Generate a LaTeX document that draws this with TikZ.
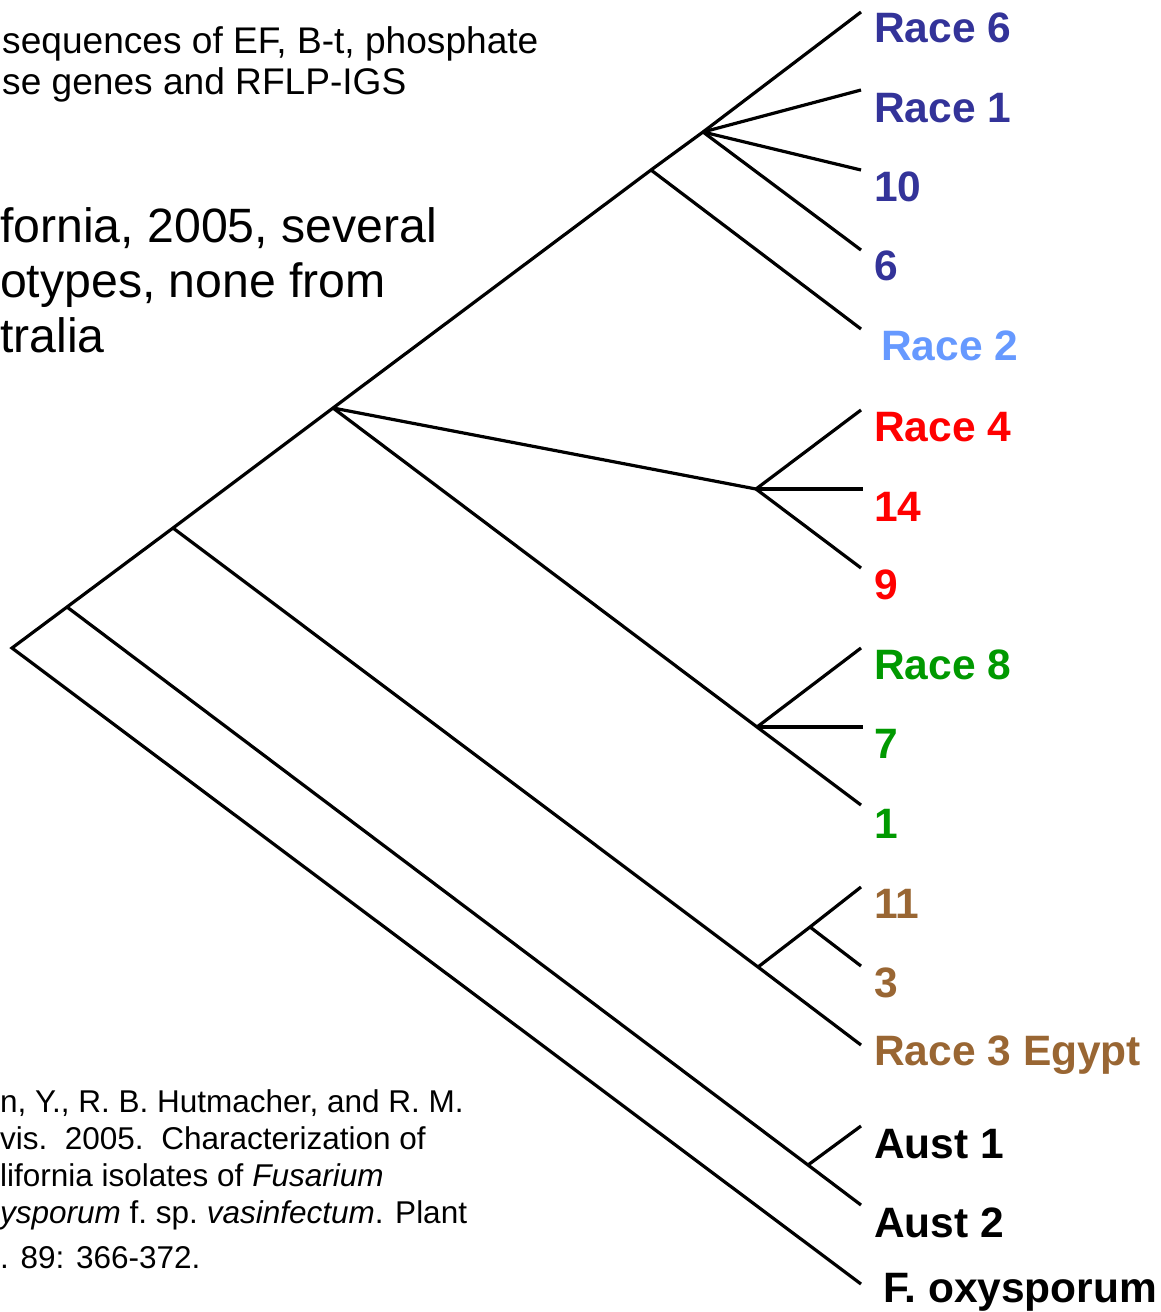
\documentclass[tikz,border=0pt]{standalone}
\usepackage{fontspec}
\setmainfont{Liberation Sans}
\definecolor{rblue}{HTML}{333399}
\definecolor{rlight}{HTML}{6699FF}
\definecolor{rred}{HTML}{FF0000}
\definecolor{rgreen}{HTML}{009900}
\definecolor{rbrown}{HTML}{996633}
\begin{document}
\begin{tikzpicture}[x=1pt,y=-1pt,
  br/.style={draw=black, line width=3.2pt},
  lab/.style={anchor=base west, inner sep=0pt, font=\bfseries\fontsize{42.5}{50}\selectfont},
  txt/.style={anchor=base west, inner sep=0pt, text=black},
]
\useasboundingbox (0,0) rectangle (1161,1312);
% internal nodes
\coordinate (root) at (12,648);
\coordinate (nA) at (67,607);
\coordinate (nB) at (173,528);
\coordinate (nC) at (333,408);
\coordinate (nD) at (651,170);
\coordinate (nE) at (703,132);
\coordinate (nF) at (756,489);
\coordinate (nG) at (757,727);
\coordinate (nH) at (758,967);
\coordinate (nI) at (810,927);
\coordinate (nJ) at (808,1165);
% tips
\coordinate (t1) at (861,12);
\coordinate (t2) at (861,90);
\coordinate (t3) at (861,170);
\coordinate (t4) at (861,250);
\coordinate (t5) at (861,329);
\coordinate (t6) at (861,410);
\coordinate (t7) at (863,489);
\coordinate (t8) at (861,568);
\coordinate (t9) at (861,648);
\coordinate (t10) at (863,727);
\coordinate (t11) at (861,805);
\coordinate (t12) at (861,887);
\coordinate (t13) at (861,966);
\coordinate (t14) at (861,1045);
\coordinate (t15) at (861,1126);
\coordinate (t16) at (861,1205);
\coordinate (t17) at (861,1284);
% branches
\draw[br] (t1) -- (nE) -- (nD) -- (nC) -- (nB) -- (nA) -- (root) -- (t17);
\draw[br] (nE) -- (t2);
\draw[br] (nE) -- (t3);
\draw[br] (nE) -- (t4);
\draw[br] (nD) -- (t5);
\draw[br] (nC) -- (nF);
\draw[br] (nF) -- (t6);
\draw[br] (nF) -- (t7);
\draw[br] (nF) -- (t8);
\draw[br] (nC) -- (nG) -- (t11);
\draw[br] (nG) -- (t9);
\draw[br] (nG) -- (t10);
\draw[br] (nB) -- (nH) -- (t14);
\draw[br] (nH) -- (nI) -- (t12);
\draw[br] (nI) -- (t13);
\draw[br] (nA) -- (nJ) -- (t16);
\draw[br] (nJ) -- (t15);
% labels
\node[lab, text=rblue] (l1) at (874,42) {Race 6};
\node[lab, text=rblue] (l2) at (874,122) {Race 1};
\node[lab, text=rblue] (l3) at (874,201) {10};
\node[lab, text=rblue] (l4) at (874,280) {6};
\node[lab, text=rlight] (l5) at (881,360) {Race 2};
\node[lab, text=rred] (l6) at (874,441) {Race 4};
\node[lab, text=rred] (l7) at (874,521) {14};
\node[lab, text=rred] (l8) at (874,599) {9};
\node[lab, text=rgreen] (l9) at (874,679) {Race 8};
\node[lab, text=rgreen] (l10) at (874,758) {7};
\node[lab, text=rgreen] (l11) at (874,838) {1};
\node[lab, text=rbrown] (l12) at (874,918) {11};
\node[lab, text=rbrown] (l13) at (874,997) {3};
\node[lab, text=rbrown] (l14) at (874,1065) {Race 3 Egypt};
\node[lab, text=black] (l15) at (874,1158) {Aust 1};
\node[lab, text=black] (l16) at (874,1237) {Aust 2};
\node[lab, text=black] (l17) at (883,1302) {F. oxysporum};
% left texts
\node[txt, font=\fontsize{37.1}{44}\selectfont] (top1) at (2,53) {sequences of EF, B-t, phosphate};
\node[txt, font=\fontsize{37.1}{44}\selectfont] (top2) at (2,94) {se genes and RFLP-IGS};
\node[txt, font=\fontsize{48.2}{57}\selectfont] (mid1) at (0,242) {fornia, 2005, several};
\node[txt, font=\fontsize{48.2}{57}\selectfont] (mid2) at (0,297) {otypes, none from};
\node[txt, font=\fontsize{48.2}{57}\selectfont] (mid3) at (0,352) {tralia};
\node[txt, font=\fontsize{31.5}{38}\selectfont] (c1) at (0,1112) {n, Y., R. B. Hutmacher, and R. M.};
\node[txt, font=\fontsize{31.5}{38}\selectfont] (c2) at (0,1149) {vis.\ \ 2005.\ \ Characterization of};
\node[txt, font=\fontsize{31.5}{38}\selectfont] (c3) at (0,1186) {lifornia isolates of \textit{Fusarium}};
\node[txt, font=\fontsize{31.5}{38}\selectfont] (c4) at (0,1223) {\textit{ysporum} f.\ sp.\ \textit{vasinfectum}. Plant};
\node[txt, font=\fontsize{31.5}{38}\selectfont] (c5) at (0,1268) {. 89: 366-372.};
\end{tikzpicture}
\end{document}
